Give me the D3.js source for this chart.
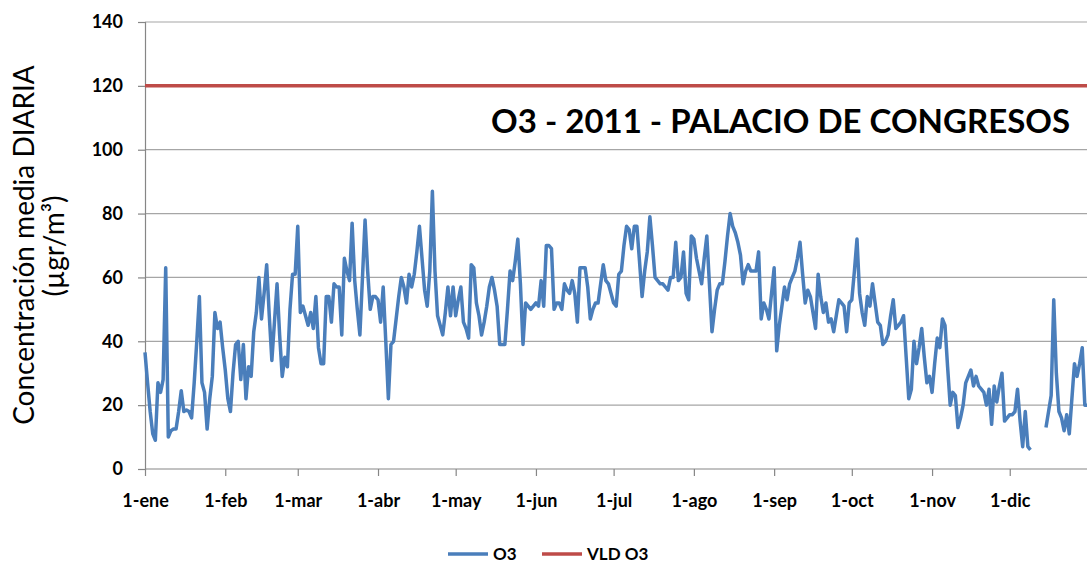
<!DOCTYPE html>
<html>
<head>
<meta charset="utf-8">
<script src="https://cdn.jsdelivr.net/npm/d3@7"></script>
<style>
  body { margin: 0; background: #fff; }
  svg { display: block; font-family: Lato, "Open Sans", sans-serif; }
</style>
</head>
<body>
<div id="chart"></div>
<script>
// daily O3 values (µgr/m³), one array per month, null = no data
let o3Ene = [36.5, 27, 18, 11, 9, 27, 24, 28, 63, 10, 12, 12.5, 12.5, 18, 24.5, 18, 18.5, 18, 16, 27,
    40, 54, 27, 24, 12.5, 22, 29, 49, 44, 46, 38];
let o3Feb = [31, 22, 18, 30, 39, 40, 28, 39, 22, 32, 29, 43, 49, 60, 47, 55, 64, 48, 34, 46,
    58, 42, 29, 35, 32, 50, 61, 61];
let o3Mar = [76, 49, 51, 48, 45, 49, 44, 54, 38, 33, 33, 54, 54, 46, 58, 57, 57, 42, 66, 62,
    59, 77, 59, 50, 42, 60, 78, 62, 50, 54, 54];
let o3Abr = [53, 46, 57, 40, 22, 39, 40, 47, 54, 60, 57, 52, 61, 57, 61, 68, 76, 66, 56, 51,
    62, 87, 62, 48, 45, 42, 49, 57, 48, 57];
let o3May = [48, 53, 57, 46, 44, 41, 64, 63, 52, 48, 42, 46, 51, 57, 60, 56, 51, 39, 39, 39,
    50, 62, 59, 65, 72, 58, 39, 52, 51, 50, 51];
let o3Jun = [52, 51, 59, 51, 70, 70, 69, 50, 52, 52, 50, 58, 56, 55, 59, 55, 46, 63, 63, 63,
    57, 47, 50, 52, 52, 58, 64, 59, 58, 55];
let o3Jul = [52, 51, 61, 62, 70, 76, 75, 69, 76, 76, 65, 54, 62, 68, 79, 70, 60, 59, 58, 58,
    57, 56, 60, 60, 71, 59, 60, 68, 55, 53, 73];
let o3Ago = [72, 66, 62, 58, 66, 73, 58, 43, 50, 56, 58, 58, 65, 73, 80, 76, 74, 71, 67, 58,
    62, 64, 62, 62, 62, 68, 47, 52, 50, 47, 55];
let o3Sep = [63, 37, 45, 51, 57, 53, 58, 60, 62, 66, 71, 61, 52, 56, 54, 49, 44, 61, 54, 49,
    52, 46, 47, 43, 48, 53, 52, 51, 43, 52];
let o3Oct = [53, 62, 72, 55, 49, 45, 54, 51, 58, 52, 46, 45, 39, 40, 42, 48, 53, 44, 45, 46,
    48, 35, 22, 25, 40, 33, 38, 44, 35, 27, 29];
let o3Nov = [24, 33, 41, 38, 47, 45, 32, 20, 24, 23, 13, 16, 20, 27, 29, 31, 26, 29, 26, 25,
    24, 20, 25, 14, 26, 21, 26, 30, 15, 16];
let o3Dic = [17, 17, 18, 25, 15, 7, 18, 7, 6, null, null, null, null, null, 13, 18, 23, 53, 30, 18,
    16, 12, 17, 11, 22, 33, 29, 33, 38, 20, 20];

let vldO3 = 120; // valor limite diario
let monthLabels = ["1-ene", "1-feb", "1-mar", "1-abr", "1-may", "1-jun",
    "1-jul", "1-ago", "1-sep", "1-oct", "1-nov", "1-dic"];
let yTicks = [0, 20, 40, 60, 80, 100, 120, 140];
let title = "O3 - 2011 - PALACIO DE CONGRESOS";

let o3 = [].concat(o3Ene, o3Feb, o3Mar, o3Abr, o3May, o3Jun, o3Jul, o3Ago, o3Sep, o3Oct, o3Nov, o3Dic);
let dataset = o3.map((v, i) => ({date: new Date(Date.UTC(2011, 0, 1 + i)), value: v}));
let monthStarts = monthLabels.map((m, i) => new Date(Date.UTC(2011, i, 1)));

let width = 1087;
let height = 564;
let margin = {top: 22, bottom: 95, left: 145, right: -3};

let svg = d3.select("#chart")
    .append("svg")
    .attr("width", width)
    .attr("height", height);

let x = d3.scaleUtc()
    .domain([new Date(Date.UTC(2011, 0, 1)), new Date(Date.UTC(2012, 0, 1))])
    .range([margin.left, width - margin.right]);

let y = d3.scaleLinear()
    .domain([0, 140])
    .range([height - margin.bottom, margin.top]);

// gridlines
svg.append("g")
    .selectAll("line")
    .data(yTicks.filter(d => d > 0))
    .join("line")
        .attr("x1", margin.left)
        .attr("x2", width)
        .attr("y1", d => y(d))
        .attr("y2", d => y(d))
        .attr("stroke", "#a6a6a6")
        .attr("stroke-width", 1.2);

function yAxis(g){
    g.attr("transform", `translate(${margin.left}, 0)`)
    .call(d3.axisLeft(y).tickValues(yTicks).tickSize(7).tickPadding(15))
    .attr("font-size", "18px")
    .attr("font-weight", "bold")
    .attr("font-family", "Lato");
    g.selectAll("path, line").attr("stroke", "#868686").attr("stroke-width", 1.2);
    g.selectAll("text").attr("fill", "#000");
}

function xAxis(g){
    g.attr("transform", `translate(0, ${y(0)})`)
    .call(d3.axisBottom(x).tickValues(monthStarts).tickFormat((d, i) => monthLabels[i])
        .tickSize(7).tickPadding(18).tickSizeOuter(0))
    .attr("font-size", "18px")
    .attr("font-weight", "bold")
    .attr("font-family", "Lato");
    g.select(".domain").attr("d", `M${margin.left},0H${width}`);
    g.selectAll("path, line").attr("stroke", "#868686").attr("stroke-width", 1.2);
    g.selectAll("text").attr("fill", "#000");
}

svg.append("g").call(yAxis);
svg.append("g").call(xAxis);

// VLD line
svg.append("path")
    .datum(dataset)
    .attr("fill", "none")
    .attr("stroke", "#be4b48")
    .attr("stroke-width", 3.5)
    .attr("d", d3.line().x(d => x(d.date)).y(() => y(vldO3)));

// O3 line
svg.append("path")
    .datum(dataset)
    .attr("fill", "none")
    .attr("stroke", "#4a7ebb")
    .attr("stroke-width", 3.5)
    .attr("stroke-linejoin", "round")
    .attr("d", d3.line()
        .defined(d => d.value !== null)
        .x(d => x(d.date))
        .y(d => y(d.value)));

// title
svg.append("text")
    .attr("x", 1070)
    .attr("y", 133)
    .attr("text-anchor", "end")
    .attr("font-size", "33px")
    .attr("font-weight", "bold")
    .text(title);

// y axis label, two lines
let yLab = svg.append("text")
    .attr("transform", "rotate(-90)")
    .attr("text-anchor", "middle")
    .attr("font-size", "28px");
yLab.append("tspan")
    .attr("x", -245)
    .attr("y", 34)
    .text("Concentración media DIARIA");
yLab.append("tspan")
    .attr("x", -246)
    .attr("y", 64)
    .text("(µgr/m³)");

// legend
let legendItems = [
    {name: "O3", color: "#4a7ebb", x: 448},
    {name: "VLD O3", color: "#be4b48", x: 542}
];
let legend = svg.append("g")
    .selectAll("g")
    .data(legendItems)
    .join("g")
        .attr("transform", d => `translate(${d.x}, 554)`);
legend.append("line")
    .attr("x1", 0)
    .attr("x2", 40)
    .attr("stroke", d => d.color)
    .attr("stroke-width", 3.5);
legend.append("text")
    .attr("x", 45)
    .attr("dy", "0.35em")
    .attr("font-size", "17px")
    .attr("font-weight", "bold")
    .text(d => d.name);
</script>
</body>
</html>
